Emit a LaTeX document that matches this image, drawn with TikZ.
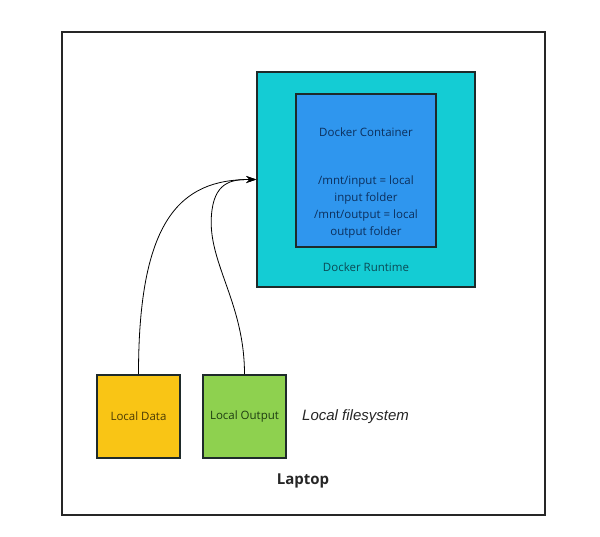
\documentclass[tikz,border=0pt]{standalone}
\usepackage{fontspec}
\setmainfont{Open Sans}
\newfontfamily\arialf{Liberation Sans}
\usetikzlibrary{arrows.meta}
\definecolor{rtfill}{HTML}{14CCD4}
\definecolor{dcfill}{HTML}{2F96EE}
\definecolor{ldfill}{HTML}{F9C515}
\definecolor{lofill}{HTML}{8ED14F}
\definecolor{rttext}{HTML}{0B4A55}
\definecolor{dctext}{HTML}{0C2F5C}
\definecolor{ldtext}{HTML}{4A3A05}
\definecolor{lotext}{HTML}{1E3D12}
\definecolor{edge}{HTML}{1E2A2A}
\tikzset{
  box/.style={draw=edge, line width=1.6pt, inner sep=0pt},
  lbl/.style={inner sep=0pt, font=\fontsize{11.5}{17}\selectfont, align=center},
  conn/.style={line width=0.8pt, -{Stealth[length=10pt,width=7pt]}}
}
\begin{document}
\begin{tikzpicture}[x=1pt,y=-1pt]
\useasboundingbox (0,0) rectangle (600,536);
\fill[white] (0,0) rectangle (600,536);
\node[draw=black!85, line width=1.4pt, minimum width=483pt, minimum height=483pt, inner sep=0pt] (laptop) at (303.5,273.5) {};
\node[box, fill=rtfill, minimum width=218pt, minimum height=215pt] (rt) at (366,179.5) {};
\node[box, fill=dcfill, minimum width=140pt, minimum height=153pt] (dc) at (366,170.5) {};
\node[box, fill=ldfill, minimum width=83pt, minimum height=83pt] (ld) at (138.5,416.5) {};
\node[box, fill=lofill, minimum width=83pt, minimum height=83pt] (lo) at (244.5,416.5) {};
\node[lbl, text=dctext] (dctitle) at (366,132) {Docker Container};
\node[lbl, text=dctext] (dcbody) at (366,207) {/mnt/input = local\\input folder\\/mnt/output = local\\output folder};
\node[lbl, text=rttext] (rtlabel) at (366,267.5) {Docker Runtime};
\node[lbl, text=ldtext] (ldlabel) at (ld.center) {Local Data};
\node[lbl, text=lotext] (lolabel) at (lo.center) {Local Output};
\node[inner sep=0pt, anchor=west, font=\arialf\itshape\fontsize{15}{18}\selectfont, text=black!85] (fs) at (302,416.5) {Local filesystem};
\node[inner sep=0pt, font=\bfseries\fontsize{15}{18}\selectfont, text=black!85] (laptoplabel) at (303,481) {Laptop};
\draw[conn] (ld.north) .. controls (138.5,220) and (180,179.5) .. (rt.west);
\draw[conn] (lo.north) .. controls (244.5,300) and (205,260) .. (212,210) .. controls (216,180) and (235,179.5) .. (rt.west);
\end{tikzpicture}
\end{document}
